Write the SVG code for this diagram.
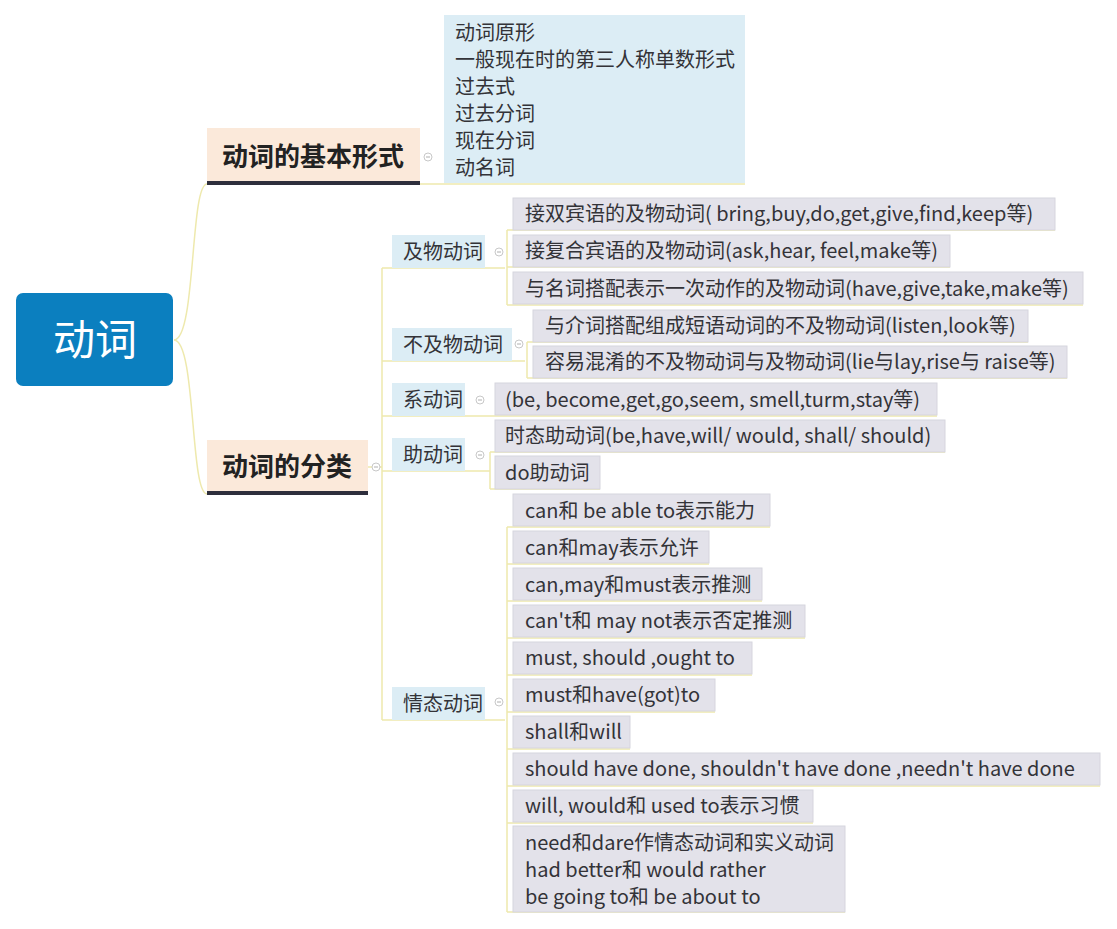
<svg xmlns="http://www.w3.org/2000/svg" width="1117" height="929" viewBox="0 0 1117 929">
<style>
text{font-family:"Noto Sans CJK SC","Noto Sans",sans-serif;fill:#333338;}
.t{font-size:20px;}
.b{font-size:26px;font-weight:bold;fill:#222;}
.root{font-size:42px;fill:#fff;}
.blue{fill:#dcedf5;}
.lav{fill:#e3e2ea;stroke:#d6d5de;stroke-width:1;}
.peach{fill:#fbe9da;}
.ul{stroke:#2e2e3c;stroke-width:4;}
.con{fill:none;stroke:#eee9ad;stroke-width:1.5;}
.col{fill:#fff;stroke:#c8c8c8;stroke-width:1;}
.colm{stroke:#b0b0b0;stroke-width:1;}
</style>
<rect width="1117" height="929" fill="#ffffff"/>

<g id="connectors">
<path class="con" d="M174,340 C196,340 190,184 207,184"/>
<path class="con" d="M174,340 C196,340 190,494 207,494"/>
<line class="con" x1="420" y1="184" x2="745" y2="184"/>
<line class="con" x1="368" y1="467" x2="382" y2="467"/>
<line class="con" x1="382" y1="268" x2="382" y2="720"/>
<line class="con" x1="382" y1="268" x2="505" y2="268"/>
<line class="con" x1="382" y1="361" x2="525" y2="361"/>
<line class="con" x1="382" y1="416" x2="490" y2="416"/>
<line class="con" x1="382" y1="471" x2="490" y2="471"/>
<line class="con" x1="382" y1="720" x2="505" y2="720"/>
<line class="con" x1="507" y1="230" x2="507" y2="305"/>
<line class="con" x1="507" y1="230" x2="1055" y2="230"/>
<line class="con" x1="507" y1="267" x2="950" y2="267"/>
<line class="con" x1="507" y1="305" x2="1083" y2="305"/>
<line class="con" x1="527" y1="342" x2="527" y2="378"/>
<line class="con" x1="527" y1="342" x2="1028" y2="342"/>
<line class="con" x1="527" y1="378" x2="1067" y2="378"/>
<line class="con" x1="490" y1="416" x2="937" y2="416"/>
<line class="con" x1="490" y1="452" x2="490" y2="489"/>
<line class="con" x1="490" y1="452" x2="945" y2="452"/>
<line class="con" x1="490" y1="489" x2="600" y2="489"/>
<line class="con" x1="507" y1="527" x2="507" y2="912"/>
<line class="con" x1="507" y1="527" x2="770" y2="527"/>
<line class="con" x1="507" y1="564" x2="709" y2="564"/>
<line class="con" x1="507" y1="601" x2="762" y2="601"/>
<line class="con" x1="507" y1="638" x2="805" y2="638"/>
<line class="con" x1="507" y1="675" x2="752" y2="675"/>
<line class="con" x1="507" y1="712" x2="715" y2="712"/>
<line class="con" x1="507" y1="749" x2="630" y2="749"/>
<line class="con" x1="507" y1="786" x2="1100" y2="786"/>
<line class="con" x1="507" y1="823" x2="813" y2="823"/>
<line class="con" x1="507" y1="912" x2="845" y2="912"/>
</g>

<g id="root">
<rect x="16" y="293" width="157" height="93" rx="7" fill="#0b7fbf"/>
<text class="root" x="95" y="355" text-anchor="middle">动词</text>
</g>

<g id="basic-forms">
<rect class="peach" x="207" y="128" width="213" height="55"/>
<line class="ul" x1="207" y1="183" x2="420" y2="183"/>
<text class="b" x="222" y="166">动词的基本形式</text>
<circle class="col" cx="428" cy="157" r="4"/><line class="colm" x1="426" y1="157" x2="430" y2="157"/>
</g>

<g id="basic-forms-list">
<rect class="blue" x="444" y="15" width="301" height="168"/>
<text class="t" x="455" y="40">动词原形</text>
<text class="t" x="455" y="67">一般现在时的第三人称单数形式</text>
<text class="t" x="455" y="94">过去式</text>
<text class="t" x="455" y="121">过去分词</text>
<text class="t" x="455" y="148">现在分词</text>
<text class="t" x="455" y="175">动名词</text>
</g>

<g id="classification">
<rect class="peach" x="207" y="440" width="161" height="53"/>
<line class="ul" x1="207" y1="493" x2="368" y2="493"/>
<text class="b" x="222" y="476">动词的分类</text>
<circle class="col" cx="376" cy="467" r="4"/><line class="colm" x1="374" y1="467" x2="378" y2="467"/>
</g>

<g id="transitive">
<rect class="blue" x="392" y="235" width="93" height="33"/>
<text class="t" x="403" y="259">及物动词</text>
<circle class="col" cx="499" cy="252" r="4"/><line class="colm" x1="497" y1="252" x2="501" y2="252"/>
</g>
<g id="intransitive">
<rect class="blue" x="392" y="328" width="120" height="33"/>
<text class="t" x="403" y="352">不及物动词</text>
<circle class="col" cx="519" cy="344" r="4"/><line class="colm" x1="517" y1="344" x2="521" y2="344"/>
</g>
<g id="linking">
<rect class="blue" x="392" y="383" width="73" height="33"/>
<text class="t" x="403" y="407">系动词</text>
<circle class="col" cx="480" cy="400" r="4"/><line class="colm" x1="478" y1="400" x2="482" y2="400"/>
</g>
<g id="auxiliary">
<rect class="blue" x="392" y="438" width="73" height="33"/>
<text class="t" x="403" y="462">助动词</text>
<circle class="col" cx="480" cy="455" r="4"/><line class="colm" x1="478" y1="455" x2="482" y2="455"/>
</g>
<g id="modal">
<rect class="blue" x="392" y="687" width="93" height="33"/>
<text class="t" x="403" y="711">情态动词</text>
<circle class="col" cx="499" cy="702" r="4"/><line class="colm" x1="497" y1="702" x2="501" y2="702"/>
</g>

<g id="t1"><rect class="lav" x="513" y="198" width="542" height="32"/><text class="t" x="525" y="221">接双宾语的及物动词( bring,buy,do,get,give,find,keep等)</text></g>
<g id="t2"><rect class="lav" x="513" y="235" width="437" height="32"/><text class="t" x="525" y="258">接复合宾语的及物动词(ask,hear, feel,make等)</text></g>
<g id="t3"><rect class="lav" x="513" y="272" width="570" height="32"/><text class="t" x="525" y="296">与名词搭配表示一次动作的及物动词(have,give,take,make等)</text></g>
<g id="i1"><rect class="lav" x="533" y="310" width="495" height="32"/><text class="t" x="545" y="333">与介词搭配组成短语动词的不及物动词(listen,look等)</text></g>
<g id="i2"><rect class="lav" x="533" y="346" width="534" height="32"/><text class="t" x="545" y="369">容易混淆的不及物动词与及物动词(lie与lay,rise与 raise等)</text></g>
<g id="l1"><rect class="lav" x="495" y="383" width="442" height="32"/><text class="t" x="505" y="407">(be, become,get,go,seem, smell,turm,stay等)</text></g>
<g id="a1"><rect class="lav" x="495" y="420" width="450" height="32"/><text class="t" x="505" y="443">时态助动词(be,have,will/ would, shall/ should)</text></g>
<g id="a2"><rect class="lav" x="495" y="456" width="105" height="33"/><text class="t" x="505" y="480">do助动词</text></g>

<g id="m1"><rect class="lav" x="513" y="494" width="257" height="32"/><text class="t" x="525" y="518">can和 be able to表示能力</text></g>
<g id="m2"><rect class="lav" x="513" y="531" width="196" height="32"/><text class="t" x="525" y="555">can和may表示允许</text></g>
<g id="m3"><rect class="lav" x="513" y="568" width="249" height="32"/><text class="t" x="525" y="592">can,may和must表示推测</text></g>
<g id="m4"><rect class="lav" x="513" y="605" width="292" height="32"/><text class="t" x="525" y="628">can't和 may not表示否定推测</text></g>
<g id="m5"><rect class="lav" x="513" y="642" width="239" height="32"/><text class="t" x="525" y="665">must, should ,ought to</text></g>
<g id="m6"><rect class="lav" x="513" y="679" width="202" height="32"/><text class="t" x="525" y="702">must和have(got)to</text></g>
<g id="m7"><rect class="lav" x="513" y="716" width="117" height="32"/><text class="t" x="525" y="739">shall和will</text></g>
<g id="m8"><rect class="lav" x="513" y="753" width="587" height="32"/><text class="t" x="525" y="776">should have done, shouldn't have done ,needn't have done</text></g>
<g id="m9"><rect class="lav" x="513" y="790" width="300" height="32"/><text class="t" x="525" y="813">will, would和 used to表示习惯</text></g>
<g id="m10"><rect class="lav" x="513" y="826" width="332" height="86"/>
<text class="t" x="525" y="850">need和dare作情态动词和实义动词</text>
<text class="t" x="525" y="877">had better和 would rather</text>
<text class="t" x="525" y="904">be going to和 be about to</text></g>
</svg>
